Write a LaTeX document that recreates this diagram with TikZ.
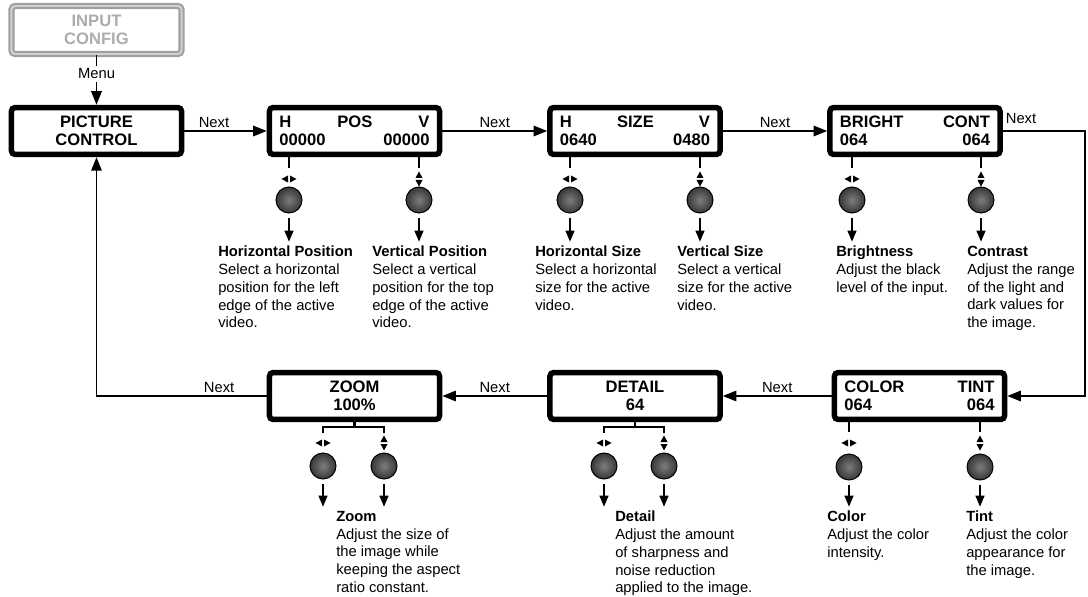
\documentclass[tikz,border=0pt]{standalone}
\usepackage{fontspec}
\setmainfont{Liberation Sans}
\usepackage{xcolor}
\definecolor{knobin}{RGB}{125,125,128}
\definecolor{knobout}{RGB}{55,55,58}
\usepackage{tikz}
\usetikzlibrary{arrows.meta,positioning,calc}

\tikzset{
  lcd/.style={draw, line width=3.9pt, rounded corners=2.5pt, minimum width=4.25cm,
    minimum height=1.17cm, inner sep=0pt, font=\fontsize{11.8}{13}\selectfont\bfseries},
  lcdsplit/.style={lcd, text width=3.75cm, align=left},
  lcdmid/.style={lcd, align=center},
  grey box/.style={lcdmid, draw=gray!75, line width=1.5pt, double=gray!35,
    double distance=1.4pt, text=gray!65},
  knob/.style={circle, draw=black, line width=0.7pt, minimum size=0.65cm, inner sep=0pt,
    shading=radial, inner color=knobin, outer color=knobout},
  desc/.style={anchor=north west, inner sep=0pt, align=left,
    font=\fontsize{10.5}{12.6}\selectfont},
  nxt/.style={font=\fontsize{10.5}{12}\selectfont, inner sep=2pt},
  flow/.style={line width=1.4pt, -{Triangle[length=3.4mm,width=2.6mm]}},
  tick/.style={line width=1.4pt, -{Triangle[length=2.8mm,width=2.2mm]}, shorten <=3pt, shorten >=3pt},
  stem/.style={line width=1.6pt},
  lr/.pic={\fill (-1,-3.5) -- (-1,3.5) -- (-7.5,0) -- cycle;
           \fill (1,-3.5) -- (1,3.5) -- (7.5,0) -- cycle;},
  ud/.pic={\fill (-3.5,-1) -- (3.5,-1) -- (0,-7.5) -- cycle;
           \fill (-3.5,1) -- (3.5,1) -- (0,7.5) -- cycle;}
}

\begin{document}
\begin{tikzpicture}[x=0.025cm, y=-0.025cm]
  \useasboundingbox (0,0) rectangle (1088,597);

  % menu boxes, top row
  \node[grey box, minimum height=1.2cm] (input) at (96.5,30) {INPUT\\CONFIG};
  \node[lcdmid] (pict) at (96.5,131) {PICTURE\\CONTROL};
  \node[lcdsplit] (pos) at (354.5,131) {H\hfill POS\hfill V\\00000\hfill 00000};
  \node[lcdsplit] (size) at (635,131) {H\hfill SIZE\hfill V\\0640\hfill 0480};
  \node[lcdsplit] (bright) at (915,131) {BRIGHT\hfill CONT\\064\hfill 064};

  % menu boxes, bottom row
  \node[lcdsplit] (color) at (919.5,396) {COLOR\hfill TINT\\064\hfill 064};
  \node[lcdmid] (detail) at (635,396) {DETAIL\\64};
  \node[lcdmid] (zoom) at (354.5,396) {ZOOM\\100\%};

  % menu flow
  \draw[flow] (input) -- (pict) node[pos=0.38, fill=white, nxt] {Menu};
  \draw[flow] (pict) -- (pos) node[pos=0.36, above, nxt] {Next};
  \draw[flow] (pos) -- (size) node[midway, above, nxt] {Next};
  \draw[flow] (size) -- (bright) node[midway, above, nxt] {Next};
  \coordinate (rturn) at (1085,260);
  \draw[flow] (bright.east) -| (rturn) |- (color.east);
  \node[nxt, anchor=south west] at (bright.north east) [yshift=-0.55cm] {Next};
  \draw[flow] (color) -- (detail) node[midway, above, nxt] {Next};
  \draw[flow] (detail) -- (zoom) node[midway, above, nxt] {Next};
  \draw[flow] (zoom.west) -| (pict.south) node[pos=0.14, above, nxt] {Next};

  % knobs, top row
  \foreach \nm/\bx/\kx/\pk/\tx/\txt in {
      hp/pos/289/lr/218/{\textbf{Horizontal Position}\\Select a horizontal\\position for the left\\edge of the active\\video.},
      vp/pos/419/ud/372/{\textbf{Vertical Position}\\Select a vertical\\position for the top\\edge of the active\\video.},
      hs/size/570/lr/535/{\textbf{Horizontal Size}\\Select a horizontal\\size for the active\\video.},
      vs/size/700/ud/677/{\textbf{Vertical Size}\\Select a vertical\\size for the active\\video.},
      br/bright/852/lr/836/{\textbf{Brightness}\\Adjust the black\\level of the input.},
      ct/bright/981/ud/967/{\textbf{Contrast}\\Adjust the range\\of the light and\\dark values for\\the image.}} {
    \node[knob] (k\nm) at (\kx,200) {};
    \pic at (\kx,179) {\pk};
    \draw[stem] (\bx.south -| k\nm) -- ++(0,11);
    \node[desc] (t\nm) at (\tx,246) {\txt};
    \draw[tick] (k\nm) -- (k\nm |- t\nm.north);
  }

  % knobs, bottom row (color and tint)
  \foreach \nm/\kx/\pk/\tx/\txt in {
      co/849/lr/827/{\textbf{Color}\\Adjust the color\\intensity.},
      ti/980/ud/966/{\textbf{Tint}\\Adjust the color\\appearance for\\the image.}} {
    \node[knob] (k\nm) at (\kx,467) {};
    \pic at (\kx,443) {\pk};
    \draw[stem] (color.south -| k\nm) -- ++(0,10);
    \node[desc] (t\nm) at (\tx,511) {\txt};
    \draw[tick] (k\nm) -- (k\nm |- t\nm.north);
  }

  % knob pairs on a bracket (zoom and detail)
  \foreach \bx/\ka/\kb/\tx/\txt in {
      zoom/323/384/336/{\textbf{Zoom}\\Adjust the size of\\the image while\\keeping the aspect\\ratio constant.},
      detail/604/664/615/{\textbf{Detail}\\Adjust the amount\\of sharpness and\\noise reduction\\applied to the image.}} {
    \node[knob] (\bx a) at (\ka,466) {};
    \node[knob] (\bx b) at (\kb,466) {};
    \pic at (\ka,443) {lr};
    \pic at (\kb,443) {ud};
    \draw[stem] (\bx.south) -- ++(0,5) coordinate (\bx j);
    \draw[stem] (\bx a |- \bx j) ++(0,6) -- (\bx a |- \bx j) -- (\bx b |- \bx j) -- ++(0,6);
    \node[desc] (\bx t) at (\tx,511) {\txt};
    \draw[tick] (\bx a) -- (\bx a |- \bx t.north);
    \draw[tick] (\bx b) -- (\bx b |- \bx t.north);
  }
\end{tikzpicture}
\end{document}
